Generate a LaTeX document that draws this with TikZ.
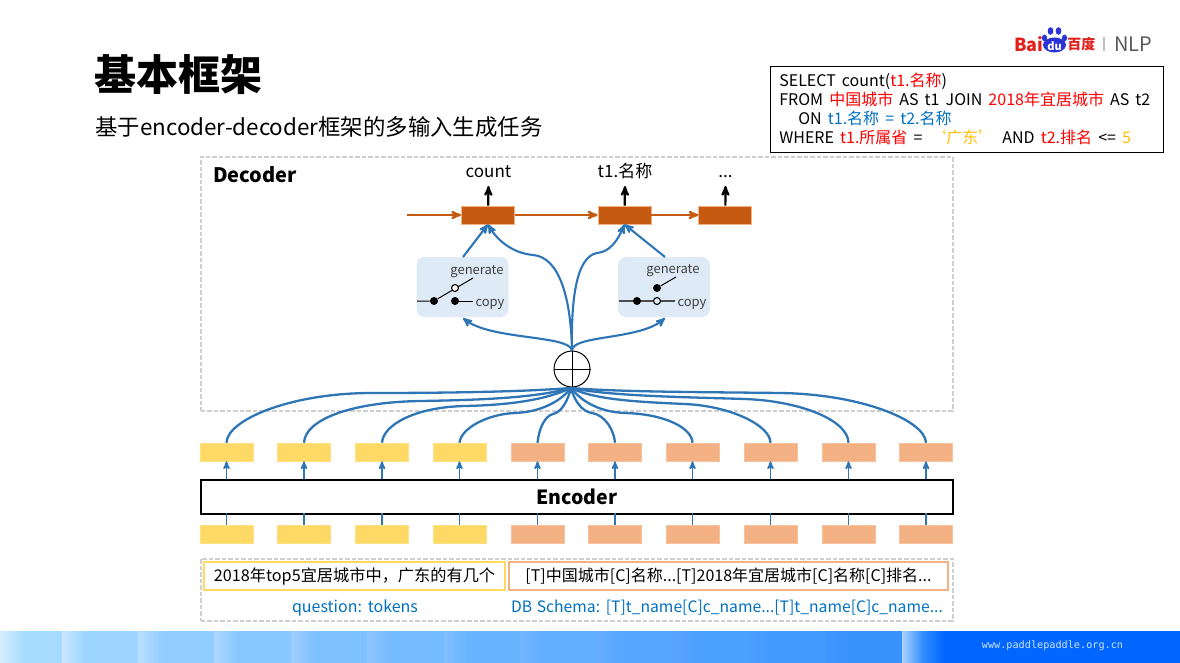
\documentclass[tikz,border=0pt]{standalone}
\usepackage{fontspec}
\setmainfont[WordSpace=1.3]{Noto Sans CJK SC}
\newfontfamily\sqlfont[WordSpace=1.7]{Noto Sans CJK SC}
\newfontfamily\urlfont{DejaVu Sans Mono}
\usetikzlibrary{arrows,positioning}

\definecolor{lineblue}{HTML}{2E75B6}
\definecolor{textblue}{HTML}{0070C0}
\definecolor{cellbrown}{HTML}{C55A11}
\definecolor{celledge}{HTML}{F4B183}
\definecolor{celltok}{HTML}{FFD966}
\definecolor{cellcol}{HTML}{F4B183}
\definecolor{switchbg}{HTML}{DEEAF6}
\definecolor{dashgray}{HTML}{CFCFCF}
\definecolor{sqlred}{HTML}{FF0000}
\definecolor{sqlgold}{HTML}{FFC000}
\definecolor{logored}{HTML}{E1201C}
\definecolor{logoblue}{HTML}{2B33D6}
\definecolor{barstart}{HTML}{A5DBFF}
\definecolor{barend}{HTML}{2F8DFF}
\definecolor{barlast}{HTML}{0066FF}
\newcommand{\fs}[2]{\fontsize{#1}{#2}\selectfont}
\newcommand{\rd}[1]{\textcolor{sqlred}{#1}}

\begin{document}
\begin{tikzpicture}[x=1pt,y=-1pt,>=stealth',node distance=136.5pt,semithick]
  \tikzstyle{every node}=[inner sep=0pt,text=black]
  \tikzstyle{frame}=[draw=dashgray,line width=1.8pt,dash pattern=on 4.5pt off 2pt]
  \tikzstyle{cell}=[minimum width=53pt,minimum height=18pt]
  \tikzstyle{tok}=[cell,fill=celltok,draw=celltok!80!white,line width=0.5pt]
  \tikzstyle{col}=[cell,fill=cellcol,draw=cellcol!80!white,line width=0.5pt]
  \tikzstyle{dec}=[cell,fill=cellbrown,draw=celledge,line width=0.8pt]
  \tikzstyle{switch}=[fill=switchbg,rounded corners=8pt,minimum width=92pt,minimum height=60pt]
  \tikzstyle{wire}=[draw=lineblue,line width=2.3pt]
  \tikzstyle{feed}=[draw=lineblue,line width=2.1pt,->]
  \tikzstyle{flow}=[draw=cellbrown,line width=2.2pt,->]
  \tikzstyle{emit}=[draw=black,line width=2.2pt,->]
  \tikzstyle{swon}=[circle,fill=black,minimum size=8pt]
  \tikzstyle{swoff}=[circle,fill=white,draw=black,line width=1.1pt,minimum size=7pt]
  \tikzstyle{swlabel}=[font=\fs{13}{15},text=black!75]
  \tikzstyle{word}=[font=\fs{17}{20},anchor=base]

  \useasboundingbox (0,0) rectangle (1180,663);

  % bottom colour bar
  \foreach \i/\a/\b/\p in {0/0/62/100,1/62/138/92,2/138/214/83,3/214/291/75,4/291/367/67,5/367/444/58,
                           6/444/520/50,7/520/596/42,8/596/673/33,9/673/749/25,10/749/826/17,11/826/902/8} {
    \fill[barstart!\p!barend] (\a,631) rectangle (\b,663);
    \shade[left color=white!55!barstart!\p!barend,right color=barstart!\p!barend] (\a,631) rectangle (\a+24,663);
  }
  \fill[barlast] (902,631) rectangle (1180,663);
  \shade[left color=white!60!barend,right color=barlast,middle color=barend] (902,631) rectangle (944,663);
  \node[text=white!75!barend,font=\urlfont\fs{10.2}{12}] (url) at (1052.5,646) {www.paddlepaddle.org.cn};

  % logo
  \node[text=logored,font=\fs{18}{20}\bfseries,anchor=west] (bai) at (1014,44) {Bai};
  \fill[logoblue] (1054.5,45) ellipse (11.5 and 7.5);
  \fill[logoblue] (1044.5,38) ellipse (2.6 and 3.4) (1050.5,31) ellipse (2.8 and 3.8)
                  (1058.5,31) ellipse (2.8 and 3.8) (1064.5,38) ellipse (2.6 and 3.4);
  \node[text=white,font=\fs{11}{12}\bfseries] (du) at (1054.5,46) {du};
  \node[text=logored,font=\fs{14}{16}\bfseries,anchor=west] (baidu) at (1067,44) {百度};
  \node[draw=black!25,line width=0.8pt,minimum height=13pt] (sep) at (1104,44) {};
  \node[text=black!65,font=\fs{20}{22},anchor=west] (nlp) at (1114,44) {NLP};

  % headings
  \node[font=\fs{42}{46}\bfseries,anchor=west] (title) at (94,75) {基本框架};
  \node[font=\fs{22.4}{26},anchor=west] (subtitle) at (95,127.5) {基于encoder-decoder框架的多输入生成任务};

  % the query
  \node[draw=black,line width=1.2pt,anchor=north west,minimum width=393pt,minimum height=86pt] (query) at (770,66) {};
  \node[anchor=north west,align=left,font=\sqlfont\fs{16}{19}] (sql) at (779,73)
    {SELECT count(\rd{t1.名称})\\
     FROM \rd{中国城市} AS t1 JOIN \rd{2018年宜居城市} AS t2\\
     \hspace*{19pt}ON \textcolor{textblue}{t1.名称 = t2.名称}\\
     WHERE \rd{t1.所属省} =\hspace{1em}\textcolor{sqlgold}{\hspace{-.5em}‘广东’\hspace{-.5em}}\hspace{1em}AND \rd{t2.排名} <= \textcolor{sqlgold}{5}};

  % dashed frames
  \node[frame,anchor=north west,minimum width=752pt,minimum height=254pt] (decframe) at (200,156) {};
  \node[font=\fs{20}{24}\bfseries,anchor=west] (declabel) at (213,175) {Decoder};
  \node[frame,anchor=north west,minimum width=752pt,minimum height=62pt] (inframe) at (200,558) {};

  % decoder cells
  \node[dec] (d1) at (488,215) {};
  \node[dec] (d2) [right of=d1] {};
  \node[dec] (d3) [right=47pt of d2] {};
  \coordinate (dstart) at (407,215);
  \path (dstart) edge [flow] (d1) (d1) edge [flow] (d2) (d2) edge [flow] (d3);
  \node[word] (w1) at (488.5,177.5) {count};
  \node[word] (w2) at (625,177.5) {t1.名称};
  \node[word] (w3) at (725.5,177.5) {...};
  \foreach \c/\i in {w1/d1,w2/d2,w3/d3} {
    \coordinate (\c e) at (\c |- 0,186);
    \draw[emit] (\i) -- (\c e);
  }

  % copy / generate switches
  \node[switch] (sw1) at (462.5,287) {};
  \node[switch] (sw2) at (664,287) {};
  \node[swlabel] (gen1) at (477,272) {generate};
  \node[swlabel] (cpy1) at (490,304) {copy};
  \node[swlabel] (gen2) at (673,271) {generate};
  \node[swlabel] (cpy2) at (692,304) {copy};
  \coordinate (a1) at (417,301);
  \coordinate (g1) at (473,278);
  \coordinate (c1) at (473,301);
  \node[swon] (p1) at (434,301) {};
  \node[swon] (q1) at (455,301) {};
  \draw[line width=1pt] (a1) -- (p1) -- (g1);
  \draw[line width=1pt] (q1) -- (c1);
  \node[swoff] (r1) at (455,288) {};
  \coordinate (a2) at (619,301);
  \coordinate (g2) at (676,277);
  \coordinate (c2) at (675,301);
  \node[swon] (r2) at (657,288) {};
  \draw[line width=1pt] (r2) -- (g2);
  \draw[line width=1.4pt,black!70] (a2) -- (c2);
  \node[swon] (p2) at (637,301) {};
  \node[swoff,fill=switchbg] (q2) at (657,301) {};

  % merge
  \node[circle,draw=black,line width=1pt,minimum size=36pt] (hub) at (572,369) {};
  \draw[line width=1pt] (hub.north) -- (hub.south) (hub.west) -- (hub.east);
  \coordinate (t1) at (463,257);
  \coordinate (t2) at (665,257);
  \coordinate (b1) at (463,318);
  \coordinate (b2) at (665,318);
  \draw[feed] (t1) -- (d1.south);
  \draw[feed] (t2) -- (d2.south);
  \draw[feed] (hub.north) .. controls (571,300) and (560,257) .. (533,255)
                          .. controls (512,253) and (497,240) .. (d1.south);
  \draw[feed] (hub.north) .. controls (571,300) and (576,257) .. (597,253)
                          .. controls (610,252) and (618,240) .. (d2.south);
  \draw[feed] (hub.north) .. controls (570,335) and (490,340) .. (b1);
  \draw[feed] (hub.north) .. controls (572,335) and (640,340) .. (b2);

  % encoder and its input / output rows
  \node[draw=black,line width=2pt,anchor=north west,minimum width=752pt,minimum height=34pt,
        font=\fs{19.5}{24}\bfseries] (enc) at (200,479) {Encoder};
  \foreach \i/\x/\s in {1/226.5/tok,2/304/tok,3/382/tok,4/459.5/tok,5/537.5/col,6/615/col,7/692.5/col,8/770.5/col,9/848.5/col,10/926/col} {
    \node[\s] (up\i) at (\x,452) {};
    \node[\s] (lo\i) at (\x,534) {};
    \coordinate (eu\i) at (\x,479);
    \coordinate (el\i) at (\x,513);
    \draw[feed,line width=1.6pt] (eu\i) -- (up\i);
    \draw[draw=lineblue,line width=1.6pt] (lo\i) -- (el\i);
  }

  % outputs fanning in
  \draw[wire] (up1.north) .. controls (227,420) and (290,393) .. (372,393) .. controls (440,393) and (520,392) .. (571,388);
  \draw[wire] (up2.north) .. controls (305,420) and (350,402) .. (421,401) .. controls (480,400) and (535,398) .. (571,388);
  \draw[wire] (up3.north) .. controls (383,425) and (415,407) .. (465,406) .. controls (510,405) and (545,400) .. (571,388);
  \draw[wire] (up4.north) .. controls (461,428) and (488,414) .. (515,413) .. controls (540,412) and (560,402) .. (571,388);
  \draw[wire] (up5.north) .. controls (539,428) and (545,416) .. (553,414) .. controls (562,412) and (568,400) .. (571,388);
  \draw[wire] (up6.north) .. controls (614,430) and (605,415) .. (592,413) .. controls (582,412) and (574,400) .. (571,388);
  \draw[wire] (up7.north) .. controls (692,428) and (665,414) .. (625,413) .. controls (600,412) and (582,402) .. (571,388);
  \draw[wire] (up8.north) .. controls (770,425) and (730,406) .. (685,404) .. controls (640,402) and (595,400) .. (571,388);
  \draw[wire] (up9.north) .. controls (848,420) and (800,401) .. (745,399) .. controls (680,397) and (610,396) .. (571,388);
  \draw[wire] (up10.north) .. controls (925,420) and (860,394) .. (780,393) .. controls (700,392) and (620,392) .. (571,388);

  % input text
  \node[draw=celltok,line width=1.8pt,fill=white,minimum width=301pt,minimum height=28pt,font=\fs{16.2}{19}] (qbox) at (354.5,576)
    {2018年top5宜居城市中，广东的有几个};
  \node[draw=celledge,line width=1.8pt,fill=white,minimum width=439pt,minimum height=28pt,font=\fs{16}{19}] (sbox) at (728.5,576)
    {[T]中国城市[C]名称...[T]2018年宜居城市[C]名称[C]排名...};
  \node[text=textblue,font=\fs{16}{19}] (qlabel) at (355,607.5) {question: tokens};
  \node[text=textblue,font=\fs{15.7}{19}] (slabel) at (727,607.5) {DB Schema: [T]t\_name[C]c\_name...[T]t\_name[C]c\_name...};
\end{tikzpicture}
\end{document}
